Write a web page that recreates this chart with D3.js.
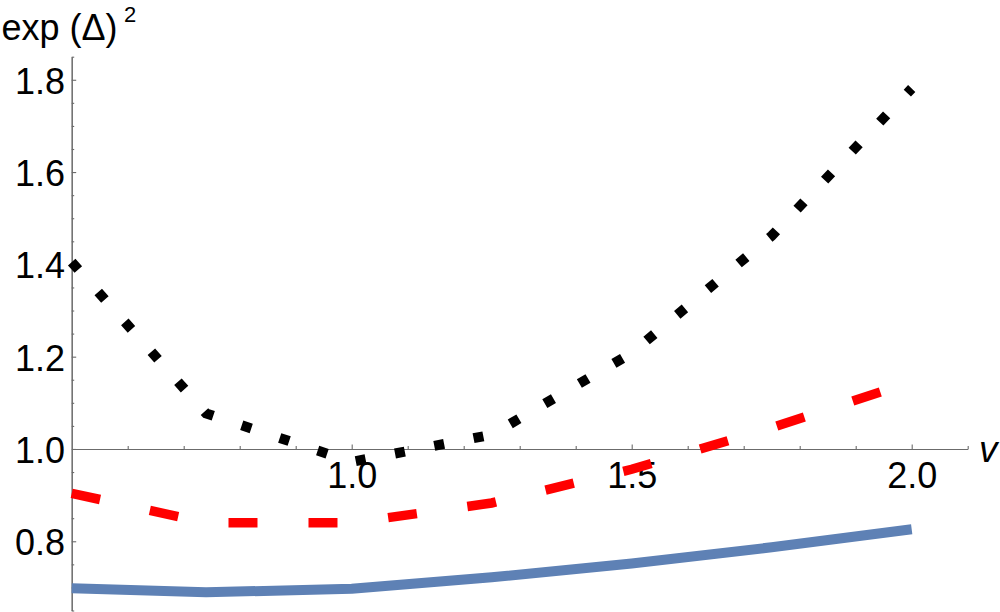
<!DOCTYPE html>
<html>
<head>
<meta charset="utf-8">
<script src="https://cdn.jsdelivr.net/npm/d3@7"></script>
<style>
  html, body { margin: 0; padding: 0; background: #fff; }
  svg { display: block; font-family: "Liberation Sans", Arial, sans-serif; }
</style>
</head>
<body>
<svg id="chart" width="1000" height="612"></svg>
<script>
// ---- data ----
const vValues      = [0.5, 0.74, 1.0, 1.25, 1.5, 1.75, 2.0];
const solidSeries  = [0.698, 0.6895, 0.697, 0.722, 0.752, 0.787, 0.826];
const dashedSeries = [0.904, 0.840, 0.840, 0.883, 0.956, 1.046, 1.146];
const dottedSeries = [1.405, 1.077, 0.972, 1.031, 1.208, 1.462, 1.781];

const xMajorTicks = [1.0, 1.5, 2.0];
const xMinorTicks = [0.6, 0.7, 0.8, 0.9, 1.1, 1.2, 1.3, 1.4, 1.6, 1.7, 1.8, 1.9, 2.1];
const yMajorTicks = [0.8, 1.0, 1.2, 1.4, 1.6, 1.8];
const yMinorTicks = [0.65, 0.7, 0.75, 0.85, 0.9, 0.95, 1.05, 1.1, 1.15, 1.25, 1.3, 1.35,
                     1.45, 1.5, 1.55, 1.65, 1.7, 1.75, 1.85];

// ---- scales ----
const svg = d3.select("#chart");
const x = d3.scaleLinear().domain([0.5, 2.1]).range([71.7, 967.7]);
const y = d3.scaleLinear().domain([0.65, 1.85]).range([610.5, 56.7]);
const axisColor = "#6b6b6b";
const fmt = d3.format(".1f");

// ---- x axis (crosses at y = 1.0) ----
const xg = svg.append("g").attr("transform", `translate(0,${y(1.0)})`);
xg.append("g").call(d3.axisBottom(x).tickValues(xMinorTicks).tickSizeInner(-3).tickSizeOuter(0).tickFormat(""));
xg.append("g").call(d3.axisBottom(x).tickValues(xMajorTicks).tickSizeInner(-4.5).tickSizeOuter(0)
   .tickPadding(13.5).tickFormat(fmt));

// ---- y axis (crosses at x = 0.5) ----
const yg = svg.append("g").attr("transform", `translate(${x(0.5)},0)`);
yg.append("g").call(d3.axisLeft(y).tickValues(yMinorTicks).tickSizeInner(-2.5).tickSizeOuter(0).tickFormat(""));
yg.append("g").call(d3.axisLeft(y).tickValues(yMajorTicks).tickSizeInner(-4.5).tickSizeOuter(0)
   .tickPadding(6.7).tickFormat(fmt));

svg.selectAll(".domain").attr("stroke", axisColor).attr("stroke-width", 1.1);
svg.selectAll(".tick line").attr("stroke", axisColor).attr("stroke-width", 1.1);
svg.selectAll(".tick text").attr("fill", "#000").attr("font-size", 36)
   .attr("font-family", "'Liberation Sans', Arial, sans-serif");
yg.selectAll(".tick text").attr("dy", "0.37em");

// ---- axis labels ----
svg.append("text").attr("x", 1.5).attr("y", 39.5)
  .attr("font-size", 36).attr("fill", "#000").text("exp (Δ)");
svg.append("text").attr("x", 124).attr("y", 22)
  .attr("font-size", 22).attr("fill", "#000").text("2");

svg.append("text").attr("x", 979).attr("y", 462).attr("font-size", 37)
  .attr("font-style", "italic").attr("fill", "#000").text("v");

// ---- series ----
const line = d3.line().x(d => x(d[0])).y(d => y(d[1]));
const pts = s => vValues.map((v, i) => [v, s[i]]);

svg.append("path").datum(pts(solidSeries)).attr("d", line)
  .attr("fill", "none").attr("stroke", "#5e81b5").attr("stroke-width", 10)
  .attr("stroke-linejoin", "round");

svg.append("path").datum(pts(dashedSeries)).attr("d", line)
  .attr("fill", "none").attr("stroke", "#ff0000").attr("stroke-width", 9.5)
  .attr("stroke-dasharray", "29 51").attr("stroke-linecap", "butt");

svg.append("path").datum(pts(dottedSeries)).attr("d", line)
  .attr("fill", "none").attr("stroke", "#000").attr("stroke-width", 10)
  .attr("stroke-dasharray", "10 30").attr("stroke-linecap", "butt");
</script>
</body>
</html>
